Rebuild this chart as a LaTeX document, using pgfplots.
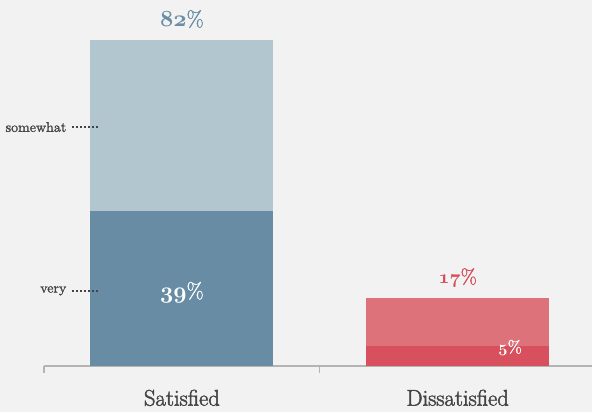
\documentclass[border=0pt]{standalone}
\usepackage{pgfplots}
\pgfplotsset{compat=1.18}
\definecolor{bg}{HTML}{F2F2F2}
\definecolor{lblue}{HTML}{B2C6CF}
\definecolor{dblue}{HTML}{678CA3}
\definecolor{lred}{HTML}{DE727B}
\definecolor{dred}{HTML}{D8505D}
\definecolor{tblue}{HTML}{6A8EA6}
\definecolor{tred}{HTML}{D74C5A}
\definecolor{tgray}{HTML}{444444}
\definecolor{agray}{HTML}{B4B4B4}
\newcommand\fb[2]{\special{pdf:literal direct 2 Tr #1 w}#2\special{pdf:literal direct 0 Tr}}
\newcommand\onum[1]{{\usefont{OML}{cmm}{b}{it}#1}}
\begin{document}
\begin{tikzpicture}
\fill[bg] (0,0) rectangle (444pt,309pt);
\useasboundingbox (0,0) rectangle (444pt,309pt);
\begin{axis}[
  at={(33pt,34.5pt)}, anchor=south west,
  width=411pt, height=274.5pt, scale only axis,
  xmin=-0.5, xmax=1.487, ymin=0, ymax=92.05,
  clip=false,
  hide y axis,
  axis x line*=bottom,
  x axis line style={draw=agray, line width=1pt, -},
  xtick={0,1}, xticklabels={{\fb{0.35}{Satisfied}},{\fb{0.35}{Dissatisfied}}},
  major x tick style={draw=none},
  xticklabel style={font=\fontsize{17}{20}\selectfont, text=tgray, yshift=-10pt},
  extra x ticks={-0.5,0.5}, extra x tick labels={},
  extra x tick style={tick align=outside, major tick length=5pt, major x tick style={draw=agray, line width=0.8pt}},
  ybar, bar width=137.25pt, bar shift=0pt,
]
\addplot[fill=lblue, draw=none] coordinates {(0,82)};
\addplot[fill=dblue, draw=none] coordinates {(0,39)};
\addplot[fill=lred, draw=none] coordinates {(1,17)};
\addplot[fill=dred, draw=none] coordinates {(1,5)};

\node[anchor=base, yshift=10pt, text=tblue, font=\fontsize{16.5}{18}\selectfont] at (axis cs:0,82) {\onum{82}\fb{0.25}{\%}};
\node[anchor=base, text=white, font=\fontsize{16.5}{18}\selectfont] at (axis cs:0,17) {\onum{39}\fb{0.2}{\%}};
\node[anchor=base, yshift=11pt, text=tred, font=\fontsize{15.5}{18}\selectfont] at (axis cs:1,17) {\onum{17}\fb{0.25}{\%}};
\node[anchor=base, text=white, font=\fontsize{13}{15}\selectfont] at (axis cs:1.19,3.3) {\onum{5}\fb{0.15}{\%}};

\node[anchor=east, text=tgray, font=\fontsize{10.5}{12}\selectfont, inner sep=0pt] at (axis cs:-0.418,60.1) {\fb{0.15}{somewhat}};
\node[anchor=east, text=tgray, font=\fontsize{10.5}{12}\selectfont, inner sep=0pt] at (axis cs:-0.418,18.9) {\fb{0.15}{very}};
\draw[tgray, line width=1.1pt, dash pattern=on 1.1pt off 1.9pt] (axis cs:-0.397,60.1) -- (axis cs:-0.297,60.1);
\draw[tgray, line width=1.1pt, dash pattern=on 1.1pt off 1.9pt] (axis cs:-0.397,18.9) -- (axis cs:-0.297,18.9);
\end{axis}
\end{tikzpicture}
\end{document}
